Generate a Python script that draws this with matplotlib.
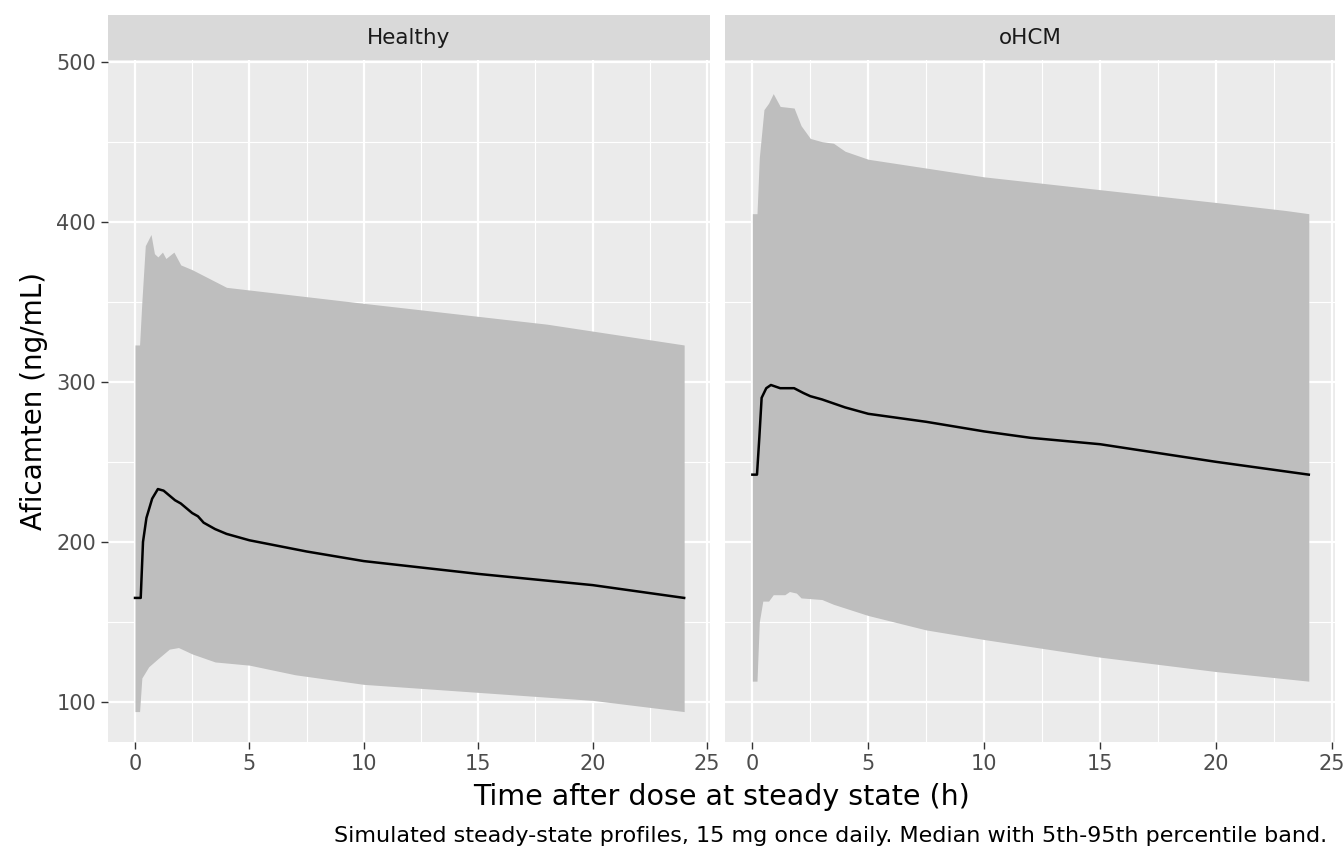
import numpy as np
import matplotlib
matplotlib.use("Agg")
import matplotlib.pyplot as plt

panels = ["Healthy", "oHCM"]

h_med_t = [0, 0.25, 0.35, 0.5, 0.75, 1, 1.25, 1.5, 1.75, 2, 2.25, 2.5, 2.75, 3, 3.5, 4, 5, 7.5, 10, 15, 20, 24]
h_med = [165, 165, 200, 215, 227, 233, 232, 229, 226, 224, 221, 218, 216, 212, 208, 205, 201, 194, 188, 180, 173, 165]
h_up_t = [0, 0.2, 0.3, 0.45, 0.7, 0.85, 1.0, 1.2, 1.35, 1.7, 2, 2.5, 4, 10, 18, 24]
h_up = [323, 323, 350, 385, 392, 380, 378, 381, 377, 381, 373, 370, 359, 349, 336, 323]
h_lo_t = [0, 0.2, 0.3, 0.6, 1, 1.5, 1.9, 2.2, 2.5, 3.5, 5, 7, 8, 10, 20, 24]
h_lo = [94, 94, 115, 122, 127, 133, 134, 132, 130, 125, 123, 117, 115, 111, 101, 94]

o_med_t = [0, 0.2, 0.3, 0.4, 0.6, 0.8, 1.2, 1.8, 2.2, 2.5, 3, 4, 5, 7.5, 10, 12, 15, 20, 24]
o_med = [242, 242, 265, 290, 296, 298, 296, 296, 293, 291, 289, 284, 280, 275, 269, 265, 261, 250, 242]
o_up_t = [0, 0.2, 0.3, 0.5, 0.7, 0.9, 1.2, 1.8, 2.1, 2.5, 3, 3.5, 4, 5, 10, 15, 20, 23, 24]
o_up = [405, 405, 440, 470, 474, 480, 472, 471, 460, 452, 450, 449, 444, 439, 428, 420, 412, 407, 405]
o_lo_t = [0, 0.2, 0.3, 0.45, 0.7, 0.9, 1.4, 1.6, 1.9, 2.1, 3, 3.5, 5, 7.5, 10, 15, 20, 24]
o_lo = [113, 113, 150, 163, 163, 167, 167, 169, 168, 165, 164, 161, 154, 145, 139, 128, 119, 113]

data = {
    "Healthy": (h_med_t, h_med, h_up_t, h_up, h_lo_t, h_lo),
    "oHCM": (o_med_t, o_med, o_up_t, o_up, o_lo_t, o_lo),
}

W, H = 1344, 864
fig = plt.figure(figsize=(W / 100, H / 100), dpi=100)
lefts = [(108, 710), (725, 1335)]
ptop, pbot, stop = 60, 742, 15

for i, (name, (x0, x1)) in enumerate(zip(panels, lefts)):
    ax = fig.add_axes([x0 / W, 1 - pbot / H, (x1 - x0) / W, (pbot - ptop) / H])
    ax.set_facecolor("#EBEBEB")
    for s in ax.spines.values():
        s.set_visible(False)
    mt, m, ut, u, lt, l = data[name]
    grid = np.union1d(ut, lt)
    ax.fill_between(grid, np.interp(grid, lt, l), np.interp(grid, ut, u),
                    color="#BEBEBE", lw=0, zorder=2)
    ax.plot(mt, m, color="black", lw=1.8, zorder=3)
    ax.set_xlim(-1.18, 25.13)
    ax.set_ylim(75, 501)
    ax.set_xticks([0, 5, 10, 15, 20, 25])
    ax.set_xticks([2.5, 7.5, 12.5, 17.5, 22.5], minor=True)
    ax.set_yticks([100, 200, 300, 400, 500])
    ax.set_yticks([150, 250, 350, 450], minor=True)
    ax.grid(which="major", color="white", lw=1.6, zorder=1)
    ax.grid(which="minor", color="white", lw=0.8, zorder=1)
    ax.set_axisbelow(True)
    ax.tick_params(which="major", colors="#333333", length=5, width=1,
                   labelsize=15, labelcolor="#4D4D4D")
    ax.tick_params(which="minor", length=0)
    if i > 0:
        ax.tick_params(axis="y", labelleft=False, length=0)
    else:
        ax.set_ylabel("Aficamten (ng/mL)", fontsize=20, labelpad=6)
    sax = fig.add_axes([x0 / W, 1 - ptop / H, (x1 - x0) / W, (ptop - stop) / H])
    sax.set_facecolor("#D9D9D9")
    sax.set_xticks([]); sax.set_yticks([])
    for s in sax.spines.values():
        s.set_visible(False)
    sax.text(0.5, 0.5, name, ha="center", va="center", fontsize=15.5, color="#1A1A1A")

fig.text((108 + 1335) / 2 / W, 1 - 797 / H, "Time after dose at steady state (h)",
         ha="center", va="center", fontsize=20.5)
fig.text(1327 / W, 1 - 836 / H,
         "Simulated steady-state profiles, 15 mg once daily. Median with 5th-95th percentile band.",
         ha="right", va="center", fontsize=16)
fig.savefig("out.png", dpi=100)
